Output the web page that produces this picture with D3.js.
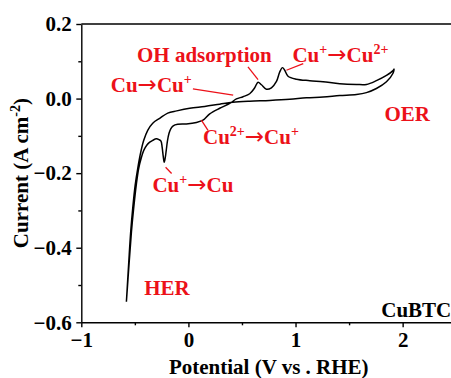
<!DOCTYPE html>
<html>
<head>
<meta charset="utf-8">
<script src="https://cdn.jsdelivr.net/npm/d3@7"></script>
<style>
  html, body { margin: 0; padding: 0; background: #fff; }
  svg { display: block; }
  text { font-family: "Liberation Serif", "Times New Roman", serif; font-weight: bold; }
</style>
</head>
<body>
<svg id="chart" width="451" height="378"></svg>
<script>
// Cyclic voltammogram of CuBTC: potential (V vs RHE) and current density (A cm^-2)

// Sweep through the redox features (from the HER limit up to the OER limit)
const sweepOutE = [-0.579, -0.553, -0.532, -0.511, -0.487, -0.464, -0.441, -0.417, -0.389, -0.361,
  -0.333, -0.299, -0.275, -0.256, -0.245, -0.235, -0.226, -0.217, -0.207, -0.196,
  -0.181, -0.165, -0.142, -0.100, -0.019, 0.075, 0.136, 0.199, 0.292, 0.386,
  0.448, 0.510, 0.572, 0.619, 0.650, 0.682, 0.728, 0.775, 0.822, 0.852,
  0.878, 0.899, 0.930, 1.008, 1.133, 1.257, 1.413, 1.569, 1.662, 1.755,
  1.849, 1.910, 1.920];
const sweepOutI = [-0.545, -0.439, -0.358, -0.294, -0.232, -0.187, -0.160, -0.139, -0.125, -0.117,
  -0.112, -0.108, -0.110, -0.114, -0.131, -0.155, -0.171, -0.160, -0.139, -0.114,
  -0.093, -0.081, -0.073, -0.069, -0.068, -0.064, -0.058, -0.041, -0.026, -0.013,
  -0.001, 0.005, 0.013, 0.029, 0.044, 0.037, 0.025, 0.029, 0.046, 0.071,
  0.083, 0.076, 0.060, 0.052, 0.048, 0.045, 0.040, 0.038, 0.038, 0.048,
  0.062, 0.075, 0.079];

// Return sweep (from the OER limit back down to the HER limit)
const sweepBackE = [1.910, 1.849, 1.755, 1.662, 1.569, 1.413, 1.257, 1.102, 0.946, 0.759,
  0.572, 0.414, 0.292, 0.152, 0.012, -0.109, -0.193, -0.268, -0.333, -0.380,
  -0.417, -0.445, -0.473, -0.497, -0.520, -0.539, -0.557, -0.579];
const sweepBackI = [0.068, 0.045, 0.027, 0.016, 0.011, 0.008, 0.004, 0.002, -0.002, -0.005,
  -0.007, -0.010, -0.015, -0.021, -0.026, -0.033, -0.039, -0.053, -0.066, -0.085,
  -0.112, -0.144, -0.187, -0.232, -0.294, -0.358, -0.439, -0.545];

// Axis ticks
const xMajorTicks = [-1, 0, 1, 2];
const xMinorTicks = [-0.5, 0.5, 1.5];
const yMajorTicks = [0.2, 0.0, -0.2, -0.4, -0.6];
const yMinorTicks = [0.1, -0.1, -0.3, -0.5];

// Plain annotations: label text and the (potential, current) of its baseline start
const labelText = ["OH adsorption", "OER", "HER"];
const labelE = [-0.48, 1.83, -0.413];
const labelI = [0.098, -0.060, -0.528];

const svg = d3.select("#chart");
const margin = { left: 81.3, top: 24, right: -5.2, bottom: 55.7 };
const W = 451, H = 378;

const x = d3.scaleLinear().domain([-1, 2.5]).range([margin.left, W - margin.right]);
const y = d3.scaleLinear().domain([-0.6, 0.2]).range([H - margin.bottom, margin.top]);

const red = "#ec1119";
const fs = 21;

// Clip the plot area
svg.append("defs").append("clipPath").attr("id", "plot")
  .append("rect").attr("x", x(-1)).attr("y", y(0.2)).attr("width", x(2.5) - x(-1)).attr("height", y(-0.6) - y(0.2));

// Axes
const fmtY = d3.format(".1f");
const fmtX = d3.format("d");

svg.append("g").attr("transform", `translate(0,${y(-0.6)})`)
  .call(d3.axisBottom(x).tickValues(xMajorTicks).tickFormat(fmtX).tickSizeInner(5).tickSizeOuter(0).tickPadding(4.5));
const xMinor = svg.append("g").attr("transform", `translate(0,${y(-0.6)})`)
  .call(d3.axisBottom(x).tickValues(xMinorTicks).tickFormat("").tickSizeInner(3).tickSizeOuter(0));
xMinor.select(".domain").remove();

svg.append("g").attr("transform", `translate(${x(-1)},0)`)
  .call(d3.axisLeft(y).tickValues(yMajorTicks).tickFormat(fmtY).tickSizeInner(5).tickSizeOuter(0).tickPadding(4.5));
const yMinor = svg.append("g").attr("transform", `translate(${x(-1)},0)`)
  .call(d3.axisLeft(y).tickValues(yMinorTicks).tickFormat("").tickSizeInner(3).tickSizeOuter(0));
yMinor.select(".domain").remove();

svg.selectAll(".domain, .tick line").attr("stroke", "#000").attr("stroke-width", 1.4);
svg.selectAll(".tick text").attr("font-size", fs).attr("font-family", "Liberation Serif, serif")
  .attr("font-weight", "bold").attr("fill", "#000");

// Top frame line
svg.append("line").attr("x1", x(-1)).attr("x2", x(2.5)).attr("y1", y(0.2)).attr("y2", y(0.2))
  .attr("stroke", "#000").attr("stroke-width", 1.4);

// Axis titles
svg.append("text").attr("x", (x(-1) + x(2.5)) / 2).attr("y", 374)
  .attr("text-anchor", "middle").attr("font-size", fs).text("Potential (V vs . RHE)");

const yTitle = svg.append("text")
  .attr("transform", `translate(28,${(y(0.2) + y(-0.6)) / 2}) rotate(-90)`)
  .attr("text-anchor", "middle").attr("font-size", fs);
yTitle.append("tspan").text("Current (A cm");
yTitle.append("tspan").attr("font-size", 14).attr("dy", -8).text("-2");
yTitle.append("tspan").attr("dy", 8).text(")");

// CV curve
const points = sweepOutE.map((e, i) => [e, sweepOutI[i]])
  .concat(sweepBackE.map((e, i) => [e, sweepBackI[i]]));
const line = d3.line().x(d => x(d[0])).y(d => y(d[1])).curve(d3.curveCatmullRom.alpha(0.5));
svg.append("path").attr("clip-path", "url(#plot)").attr("d", line(points))
  .attr("fill", "none").attr("stroke", "#000").attr("stroke-width", 1.5).attr("stroke-linejoin", "round");

// Red annotations
const ann = svg.append("g").attr("fill", red).attr("font-size", fs);
labelText.forEach((t, i) => {
  ann.append("text").attr("x", x(labelE[i])).attr("y", y(labelI[i])).text(t);
});

// Redox labels: plain runs, charge superscripts and a long thin reaction arrow
function redoxLabel(parts, e, i) {
  const t = ann.append("text").attr("x", x(e)).attr("y", y(i));
  let raised = false;
  parts.forEach(p => {
    const dy = raised ? 8 : 0;
    if (p.sup) {
      t.append("tspan").attr("font-size", 14).attr("dy", dy - 8).text(p.sup);
      raised = true;
    } else if (p.arrow) {
      t.append("tspan").attr("dy", dy).attr("font-family", "DejaVu Sans").attr("font-weight", "normal")
        .attr("font-size", 23).text("→");
      raised = false;
    } else {
      t.append("tspan").attr("dy", dy).text(p.t);
      raised = false;
    }
  });
  return t;
}
redoxLabel([{ t: "Cu" }, { arrow: true }, { t: "Cu" }, { sup: "+" }], -0.725, 0.018);
redoxLabel([{ t: "Cu" }, { sup: "+" }, { arrow: true }, { t: "Cu" }, { sup: "2+" }], 0.971, 0.098);
redoxLabel([{ t: "Cu" }, { sup: "2+" }, { arrow: true }, { t: "Cu" }, { sup: "+" }], 0.136, -0.121);
redoxLabel([{ t: "Cu" }, { sup: "+" }, { arrow: true }, { t: "Cu" }], -0.336, -0.250);

// Leader lines from the labels to the features
const leaders = [
  [[0.042, 0.026], [0.418, 0.009]],
  [[0.556, 0.085], [0.650, 0.051]],
  [[0.915, 0.076], [1.072, 0.094]],
  [[0.121, -0.058], [0.183, -0.085]],
  [[-0.213, -0.184], [-0.157, -0.201]]
];
leaders.forEach(l => {
  svg.append("line").attr("x1", x(l[0][0])).attr("y1", y(l[0][1])).attr("x2", x(l[1][0])).attr("y2", y(l[1][1]))
    .attr("stroke", red).attr("stroke-width", 1.3);
});

// Sample name
svg.append("text").attr("x", x(1.80)).attr("y", y(-0.585)).attr("font-size", fs).attr("fill", "#000").text("CuBTC");
</script>
</body>
</html>
